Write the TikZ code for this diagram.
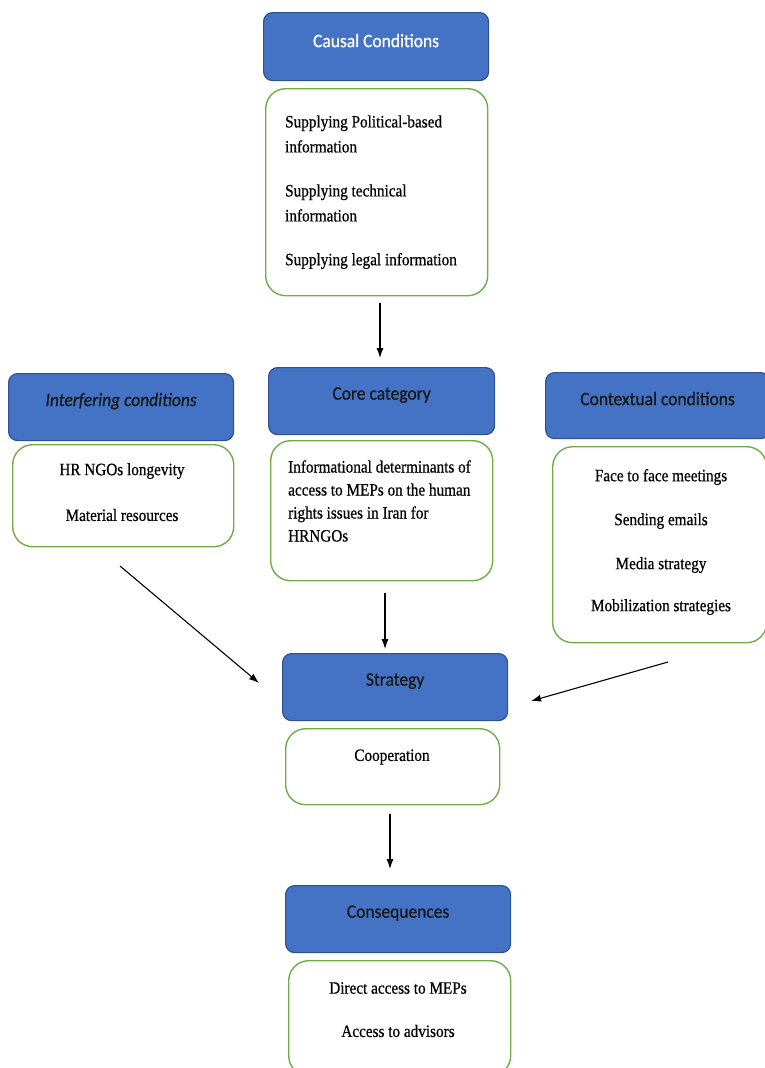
\documentclass[tikz,border=0pt]{standalone}
\usepackage{fontspec}
\setmainfont{Liberation Serif}[FakeStretch=0.88, FakeBold=0.6]
\newfontfamily\headfont{Carlito}[FakeStretch=0.92, FakeBold=0.8]
\usetikzlibrary{arrows.meta}
\definecolor{hdrblue}{HTML}{4472C4}
\definecolor{hdredge}{HTML}{2F528F}
\definecolor{boxgreen}{HTML}{70AD47}
\tikzstyle{header} = [draw=hdredge, fill=hdrblue, line width=1.2pt,
    rectangle, rounded corners=9pt, anchor=north west, inner sep=0pt]
\tikzstyle{content} = [draw=boxgreen, fill=white, line width=1.4pt,
    rectangle, rounded corners=20pt, anchor=north west, inner sep=0pt]
\tikzstyle{headtext} = [font=\headfont\fontsize{19}{22}\selectfont, text=black!90, inner sep=0pt]
\tikzstyle{bodytext} = [font=\fontsize{17.3}{23}\selectfont, text=black, inner sep=0pt]
\tikzstyle{flow} = [-{Latex[length=10pt, width=7pt]}, line width=1.1pt]

\begin{document}
\begin{tikzpicture}[x=1pt, y=-1pt]
                \useasboundingbox (0,0) rectangle (764,1068);
                % causal conditions
                \node[header, minimum width=225pt, minimum height=68pt] (causal) at (263,12) {};
                \node[headtext, text=white] (causaltitle) at ([yshift=6pt]causal.center) {Causal Conditions};
                \node[content, minimum width=222pt, minimum height=207pt] (causalbox) at (265,88) {};
                \node[bodytext, align=left, anchor=west, font=\fontsize{17.3}{25}\selectfont] (political) at (285,134) {Supplying Political-based\\information};
                \node[bodytext, align=left, anchor=west, font=\fontsize{17.3}{25}\selectfont] (technical) at (285,203) {Supplying technical\\information};
                \node[bodytext, align=left, anchor=west] (legal) at (285,261) {Supplying legal information};

                % interfering conditions
                \node[header, minimum width=225pt, minimum height=67pt] (interfering) at (8,373) {};
                \node[headtext, font=\headfont\itshape\fontsize{19}{22}\selectfont] (interferingtitle) at ([yshift=6pt]interfering.center) {Interfering conditions};
                \node[content, minimum width=221pt, minimum height=102pt] (interferingbox) at (12,444) {};
                \node[bodytext] (longevity) at (122,471) {HR NGOs longevity};
                \node[bodytext] (material) at (122,515) {Material resources};

                % core category
                \node[header, minimum width=226pt, minimum height=67pt] (core) at (268,367) {};
                \node[headtext] (coretitle) at ([yshift=6pt]core.center) {Core category};
                \node[content, minimum width=222pt, minimum height=140pt] (corebox) at (270,440) {};
                \node[bodytext, align=left, anchor=west] (determinants) at (288,501) {Informational determinants of\\access to MEPs on the human\\rights issues in Iran for\\HRNGOs};

                % contextual conditions
                \node[header, minimum width=224pt, minimum height=66pt] (contextual) at (545,372) {};
                \node[headtext] (contextualtitle) at ([yshift=7pt]contextual.center) {Contextual conditions};
                \node[content, minimum width=214pt, minimum height=196pt] (contextualbox) at (552,446) {};
                \node[bodytext] (meetings) at (661,477) {Face to face meetings};
                \node[bodytext] (emails) at (661,521) {Sending emails};
                \node[bodytext] (media) at (661,565) {Media strategy};
                \node[bodytext] (mobilization) at (661,607) {Mobilization strategies};

                % strategy
                \node[header, minimum width=225pt, minimum height=67pt] (strategy) at (282,653) {};
                \node[headtext] (strategytitle) at ([yshift=6pt]strategy.center) {Strategy};
                \node[content, minimum width=214pt, minimum height=76pt] (strategybox) at (285,728) {};
                \node[bodytext] (cooperation) at (392,757) {Cooperation};

                % consequences
                \node[header, minimum width=225pt, minimum height=67pt] (consequences) at (285,885) {};
                \node[headtext] (consequencestitle) at ([yshift=6pt]consequences.center) {Consequences};
                \node[content, minimum width=222pt, minimum height=115pt] (consequencesbox) at (288,960) {};
                \node[bodytext] (direct) at (398,988) {Direct access to MEPs};
                \node[bodytext] (advisors) at (398,1031) {Access to advisors};

                % arrows
                \coordinate (causalout) at (380,303);
                \coordinate (corein) at (380,358);
                \coordinate (coreout) at (385,593);
                \coordinate (strategyin) at (385,649);
                \coordinate (interferingout) at (120,566);
                \coordinate (strategyleft) at (259,683);
                \coordinate (contextualout) at (668,662);
                \coordinate (strategyright) at (531,701);
                \coordinate (strategyout) at (390,814);
                \coordinate (consequencesin) at (390,869);
                \draw[flow] (causalout) -- (corein);
                \draw[flow] (coreout) -- (strategyin);
                \draw[flow] (interferingout) -- (strategyleft);
                \draw[flow] (contextualout) -- (strategyright);
                \draw[flow] (strategyout) -- (consequencesin);
            \end{tikzpicture}
\end{document}
